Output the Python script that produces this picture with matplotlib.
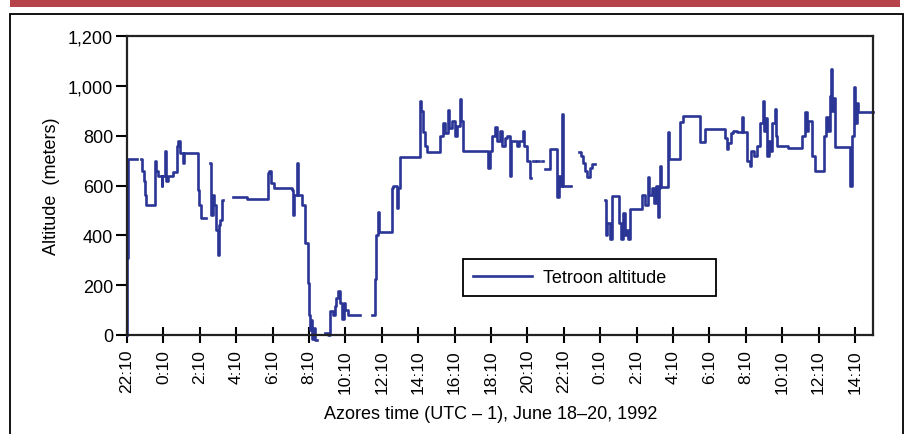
import numpy as np
import matplotlib
matplotlib.use("Agg")
import matplotlib.pyplot as plt
from matplotlib.patches import Rectangle

nan = np.nan

# hours after 22:10 on June 18 (Azores time)
hours = [
    0.00, 0.02, 0.06, 0.55,
    0.77, 0.85, 0.92, 0.99, 1.05, 1.54, 1.60, 1.70, 1.90, 1.95, 2.10, 2.16,
    2.25, 2.55, 2.75, 2.82, 2.92, 3.05, 3.15, 3.85, 3.90, 3.98, 4.05, 4.35,
    4.56, 4.62, 4.70, 4.80, 4.90, 4.98, 5.04, 5.10, 5.20, 5.28,
    5.82, 6.59, 7.75, 7.82, 7.90, 8.08, 9.07, 9.12, 9.20, 9.34, 9.40, 9.62,
    9.78, 9.95, 10.00, 10.05, 10.12, 10.18, 10.25, 10.35, 10.44,
    10.88, 11.05, 11.15, 11.30, 11.43, 11.50, 11.59, 11.70, 11.81, 11.90,
    11.98, 12.14, 12.80,
    13.46, 13.63, 13.70, 13.79, 13.85, 14.56, 14.62, 14.84, 14.90, 15.00,
    16.10, 16.18, 16.26, 16.40, 16.48, 17.20, 17.35, 17.47, 17.64, 17.70,
    17.85, 18.02, 18.15, 18.30, 18.36, 18.46, 19.84, 19.92, 20.05, 20.20,
    20.35, 20.49, 20.60, 20.77, 20.90, 21.04, 21.10, 21.43, 21.55, 21.76,
    21.82, 22.00, 22.14, 22.22,
    22.31, 22.42, 22.55, 22.66, 22.78, 22.86,
    22.97, 23.24, 23.52, 23.63, 23.72, 23.79, 23.90, 23.96, 24.40,
    24.84, 24.95, 25.05, 25.15, 25.30, 25.45, 25.55, 25.71,
    26.26, 26.32, 26.40, 26.54, 26.65, 26.98, 27.05, 27.15, 27.25, 27.35,
    27.45, 27.55, 27.64, 28.19, 28.30, 28.45, 28.63, 28.70, 28.85, 28.95,
    29.05, 29.18, 29.24, 29.29, 29.35, 29.73, 29.80, 30.11, 30.38, 30.55,
    31.48, 31.76, 32.86, 32.95, 33.05, 33.20, 33.30,
    33.52, 33.80, 33.86, 34.07, 34.23, 34.30, 34.45, 34.62, 34.80, 34.95,
    35.00, 35.10, 35.16, 35.25, 35.33, 35.45, 35.60, 35.66, 35.71, 36.32,
    37.09, 37.25, 37.35, 37.42, 37.64, 37.80, 38.19, 38.30, 38.40, 38.52,
    38.63, 38.70, 38.76, 38.85, 38.90, 39.56, 39.73, 39.84, 39.95, 40.02,
    40.11, 40.16, 40.99,
]

altitude = [
    0, 310, 705, nan,
    705, 660, 620, 560, 520, 700, 660, 640, 600, 640, 740, 620,
    640, 655, 760, 780, 730, 690, 730, 730, 580, 520, 470, nan,
    690, 480, 560, 520, 420, 320, 440, 460, 540, nan,
    555, 545, 650, 660, 610, 590, 580, 480, 560, 690, 560, 520,
    370, 210, 80, 20, 60, -15, 30, -20, nan,
    10, 0, 95, 80, 115, 150, 175, 130, 65, 130,
    100, 80, nan,
    80, 225, 400, 495, 415, 590, 600, 510, 590, 715,
    940, 900, 815, 760, 735, 800, 850, 810, 905, 830,
    860, 800, 840, 947, 860, 738, 670, 738, 800, 835,
    780, 820, 760, 790, 800, 640, 780, 760, 780, 820,
    760, 700, 630, nan,
    698, nan, 698, nan, 698, nan,
    666, 746, 746, 554, 640, 598, 887, 598, nan,
    734, 720, 690, 660, 634, 670, 686, nan,
    540, 400, 450, 385, 558, 558, 450, 385, 490, 400,
    420, 385, 506, 506, 560, 520, 634, 560, 590, 530,
    600, 473, 590, 678, 594, 815, 706, 706, 855, 879,
    775, 826, 790, 746, 770, 810, 819,
    815, 875, 815, 700, 678, 740, 720, 760, 850, 939,
    820, 870, 718, 780, 740, 850, 907, 800, 758, 752,
    800, 895, 820, 860, 718, 658, 658, 800, 875, 820,
    960, 1067, 900, 950, 754, 754, 598, 800, 995, 850,
    930, 895, 895,
]

tick_hours = list(range(0, 41, 2))
tick_labels = ["22:10", "0:10", "2:10", "4:10", "6:10", "8:10", "10:10",
               "12:10", "14:10", "16:10", "18:10", "20:10", "22:10",
               "0:10", "2:10", "4:10", "6:10", "8:10", "10:10", "12:10",
               "14:10"]
y_ticks = [0, 200, 400, 600, 800, 1000, 1200]
y_labels = ["0", "200", "400", "600", "800", "1,000", "1,200"]

plt.rcParams["font.family"] = ["Liberation Sans", "DejaVu Sans"]

fig = plt.figure(figsize=(9.07, 4.35), dpi=100)

# red band and outer frame of the figure panel
fig.patches.append(Rectangle((10 / 907, 1 - 8 / 435), 890 / 907, 8 / 435,
                             transform=fig.transFigure, facecolor="#b64349",
                             edgecolor="none"))
fig.patches.append(Rectangle((10 / 907, -0.05), 893 / 907, 1.05 - 15 / 435,
                             transform=fig.transFigure, facecolor="none",
                             edgecolor="black", linewidth=1.3))

ax = fig.add_axes([127 / 907, 1 - 336 / 435, 746 / 907, 299 / 435])
ax.plot(hours, altitude, drawstyle="steps-post", color="#2b3595",
        linewidth=1.9, label="Tetroon altitude", clip_on=False)

ax.set_xlim(0, 40.99)
ax.set_ylim(0, 1200)
ax.set_xticks(tick_hours)
ax.set_xticklabels(tick_labels, rotation=90, fontsize=12.5)
ax.set_yticks(y_ticks)
ax.set_yticklabels(y_labels, fontsize=13)
ax.tick_params(axis="x", direction="inout", length=12, width=1.5, pad=4)
ax.tick_params(axis="y", direction="out", length=8, width=1.5, pad=2)
for s in ax.spines.values():
    s.set_linewidth(1.6)
    s.set_color("#222222")

ax.set_xlabel("Azores time (UTC \u2013 1), June 18\u201320, 1992", fontsize=13,
              labelpad=6)
ax.xaxis.set_label_coords(0.487, -0.235)
ax.set_ylabel("Altitude  (meters)", fontsize=13, labelpad=6)

leg = ax.legend(loc="lower left", bbox_to_anchor=(0.45, 0.13, 0.339, 0.14),
                mode="expand", fancybox=False, framealpha=1, fontsize=13,
                handlelength=3.3, borderpad=0.55, handletextpad=0.6,
                borderaxespad=0)
leg.get_frame().set_edgecolor("black")
leg.get_frame().set_linewidth(1.3)

fig.savefig("out.png", dpi=100)
